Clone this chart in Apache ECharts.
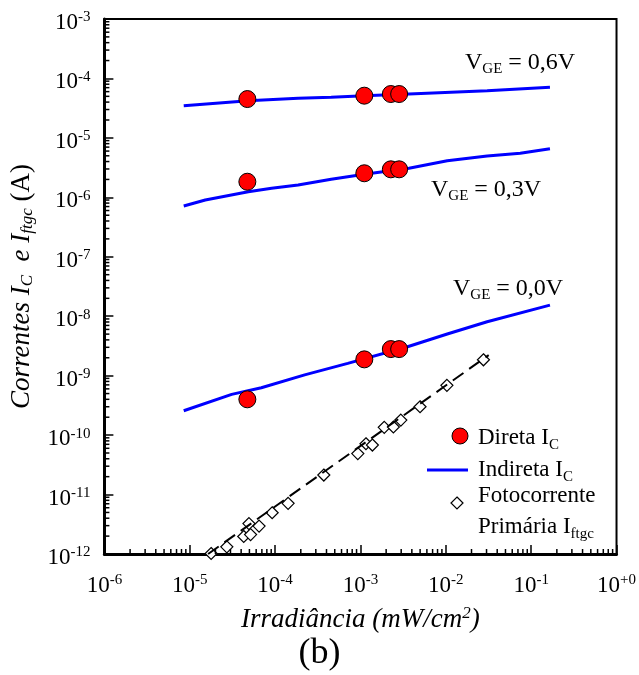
<!DOCTYPE html>
<html><head><meta charset="utf-8">
<script src="https://cdn.jsdelivr.net/npm/echarts@6/dist/echarts.min.js"></script>
<style>html,body{margin:0;padding:0;background:#fff}#c{width:639px;height:675px}</style>
</head><body><div id="c"></div>
<script>
// Axis decades (exponents)
const xExpMin = -6, xExpMax = 0;
const yExpMin = -12, yExpMax = -3;

// Indireta I_C (lines)
const indireta06 = [[8.5e-6,3.48e-5],[4.85e-5,4.23e-5],[1.86e-4,4.64e-5],[4.54e-4,4.82e-5],[1.11e-3,5.13e-5],[3.7e-3,5.5e-5],[3.05e-2,6.22e-5],[0.166,7.1e-5]];
const indireta03 = [[8.5e-6,7.15e-7],[1.52e-5,9.0e-7],[4.85e-5,1.24e-6],[9.1e-5,1.42e-6],[1.86e-4,1.61e-6],[4.54e-4,2.01e-6],[1.11e-3,2.44e-6],[3.7e-3,3.08e-6],[1.04e-2,4.13e-6],[3.05e-2,4.95e-6],[7.45e-2,5.5e-6],[0.166,6.58e-6]];
const indireta00 = [[8.5e-6,2.57e-10],[3.1e-5,4.85e-10],[6.9e-5,6.27e-10],[2.22e-4,1.03e-9],[7.1e-4,1.61e-9],[3.56e-3,3.07e-9],[1.04e-2,5.02e-9],[3.05e-2,8.09e-9],[0.166,1.54e-8]];

// Direta I_C (circles)
const diretaX = [4.73e-5, 1.11e-3, 2.27e-3, 2.84e-3];
const direta06 = [4.5e-5, 5.13e-5, 5.47e-5, 5.47e-5];
const direta03 = [1.83e-6, 2.54e-6, 2.96e-6, 2.96e-6];
const direta00 = [4.0e-10, 1.88e-9, 2.8e-9, 2.8e-9];

// Fotocorrente primária I_ftgc (diamonds)
const fotoX = [1.78e-5,2.72e-5,4.29e-5,4.94e-5,5.16e-5,6.49e-5,9.24e-5,1.42e-4,3.72e-4,9.31e-4,1.16e-3,1.38e-3,1.90e-3,2.43e-3,2.97e-3,4.99e-3,1.03e-2,2.76e-2];
const fotoY = [1.02e-12,1.32e-12,1.97e-12,3.25e-12,2.12e-12,2.95e-12,4.94e-12,7.11e-12,2.13e-11,4.89e-11,7.16e-11,6.81e-11,1.35e-10,1.37e-10,1.79e-10,3.0e-10,6.87e-10,1.85e-9];
// Fit (dashed)
const fitLine = [[1.64e-5,1e-12],[3.18e-2,2.22e-9]];

const FONT = 'Liberation Serif';
function expLabel(v){
  const e = Math.round(Math.log10(v));
  const s = e === 0 ? '+0' : String(e);
  return '{b|10}{s|' + s + '}';
}
const labelRich = {
  b:{fontSize:23,fontFamily:FONT,color:'#000',lineHeight:26},
  s:{fontSize:15,fontFamily:FONT,color:'#000',verticalAlign:'top',lineHeight:15}
};
function minorVals(e0,e1){
  const out=[];
  for(let e=e0;e<e1;e++){for(let m=2;m<=9;m++){out.push(m*Math.pow(10,e));}}
  return out;
}
const xMinor = minorVals(xExpMin,xExpMax).map(v=>[v,Math.pow(10,yExpMin)]);
const yMinor = minorVals(yExpMin,yExpMax).map(v=>[Math.pow(10,xExpMin),v]);

const zip = (xs,ys)=>xs.map((x,i)=>[x,ys[i]]);

const chart = echarts.init(document.getElementById('c'),null,{renderer:'canvas'});
const option = {
  animation:false,
  backgroundColor:'#fff',
  grid:{left:102,top:19,width:515,height:535,show:true,borderColor:'#000',borderWidth:2,backgroundColor:'transparent'},
  xAxis:{
    type:'log',logBase:10,min:Math.pow(10,xExpMin),max:Math.pow(10,xExpMax),interval:1,splitNumber:6,
    splitLine:{show:false},
    axisLine:{lineStyle:{color:'#000',width:3}},
    axisTick:{inside:true,length:9,lineStyle:{color:'#000',width:1.5}},
    axisLabel:{formatter:expLabel,rich:labelRich,margin:19,color:'#000'},
    name:'{i|Irradiância (mW/cm}{s|2}{i|)}',nameLocation:'middle',nameGap:51,
    nameTextStyle:{rich:{i:{fontSize:27,fontStyle:'italic',fontFamily:FONT,color:'#000',lineHeight:30},s:{fontSize:17,fontStyle:'italic',fontFamily:FONT,color:'#000',verticalAlign:'top',lineHeight:17}}}
  },
  yAxis:{
    type:'log',logBase:10,min:Math.pow(10,yExpMin),max:Math.pow(10,yExpMax),interval:1,splitNumber:9,
    splitLine:{show:false},
    axisLine:{lineStyle:{color:'#000',width:3}},
    axisTick:{inside:true,length:9,lineStyle:{color:'#000',width:1.5}},
    axisLabel:{formatter:expLabel,rich:labelRich,margin:14,color:'#000',padding:[8,0,0,0]},
    name:'{i|Correntes I}{sub|C}{i|  e I}{sub|ftgc}{n| (A)}',nameLocation:'middle',nameGap:54,nameRotate:90,
    nameTextStyle:{rich:{
      i:{fontSize:27,fontStyle:'italic',fontFamily:FONT,color:'#000',lineHeight:30},
      sub:{fontSize:17,fontStyle:'italic',fontFamily:FONT,color:'#000',verticalAlign:'bottom',lineHeight:17},
      n:{fontSize:27,fontFamily:FONT,color:'#000',lineHeight:30}}}
  },
  series:[
    {type:'custom',name:'xminor',data:xMinor,silent:true,z:5,clip:false,
      renderItem:(p,api)=>{const c=api.coord([api.value(0),api.value(1)]);return {type:'line',shape:{x1:c[0],y1:c[1],x2:c[0],y2:c[1]-5},style:{stroke:'#000',lineWidth:1.5}};}},
    {type:'custom',name:'yminor',data:yMinor,silent:true,z:5,clip:false,
      renderItem:(p,api)=>{const c=api.coord([api.value(0),api.value(1)]);return {type:'line',shape:{x1:c[0],y1:c[1],x2:c[0]+5,y2:c[1]},style:{stroke:'#000',lineWidth:1.5}};}},
    {type:'line',name:'Indireta 0.6',data:indireta06,showSymbol:false,lineStyle:{color:'#0000ff',width:3},z:3},
    {type:'line',name:'Indireta 0.3',data:indireta03,showSymbol:false,lineStyle:{color:'#0000ff',width:3},z:3},
    {type:'line',name:'Indireta 0.0',data:indireta00,showSymbol:false,lineStyle:{color:'#0000ff',width:3},z:3},
    {type:'scatter',name:'Foto',data:zip(fotoX,fotoY),symbol:'diamond',symbolSize:12,itemStyle:{color:'#fff',borderColor:'#000',borderWidth:1.2,opacity:1},z:3},
    {type:'line',name:'Fit',data:fitLine,showSymbol:false,lineStyle:{color:'#000',width:2,type:[13,7]},z:4},
    {type:'scatter',name:'Direta 0.6',data:zip(diretaX,direta06),symbol:'circle',symbolSize:17,itemStyle:{color:'#ff0000',borderColor:'#000',borderWidth:1,opacity:1},z:6},
    {type:'scatter',name:'Direta 0.3',data:zip(diretaX,direta03),symbol:'circle',symbolSize:17,itemStyle:{color:'#ff0000',borderColor:'#000',borderWidth:1,opacity:1},z:6},
    {type:'scatter',name:'Direta 0.0',data:zip(diretaX,direta00),symbol:'circle',symbolSize:17,itemStyle:{color:'#ff0000',borderColor:'#000',borderWidth:1,opacity:1},z:6}
  ],
  graphic:[]
};
const txtRich = {
  a:{fontSize:24,fontFamily:FONT,color:'#000',lineHeight:28},
  s:{fontSize:15,fontFamily:FONT,color:'#000',verticalAlign:'bottom',lineHeight:15}
};
function vge(x,y,val){
  return {type:'text',left:x,top:y,z:10,style:{text:'{a|V}{s|GE}{a| = '+val+'}',rich:txtRich,fill:'#000'}};
}
option.graphic.push(vge(465,51,'0,6V'));
option.graphic.push(vge(431,178,'0,3V'));
option.graphic.push(vge(453,277,'0,0V'));
// legend
const legRich = {
  a:{fontSize:23,fontFamily:FONT,color:'#000',lineHeight:30},
  s:{fontSize:15,fontFamily:FONT,color:'#000',verticalAlign:'bottom',lineHeight:15}
};
option.graphic.push({type:'circle',shape:{cx:460,cy:436,r:8},style:{fill:'#ff0000',stroke:'#000',lineWidth:1},z:10});
option.graphic.push({type:'line',shape:{x1:427,y1:470,x2:468,y2:470},style:{stroke:'#0000ff',lineWidth:3},z:10});
option.graphic.push({type:'polygon',shape:{points:[[457,497],[463,503],[457,509],[451,503]]},style:{fill:'#fff',stroke:'#000',lineWidth:1.2},z:10});
option.graphic.push({type:'text',left:478,top:426,z:10,style:{text:'{a|Direta I}{s|C}',rich:legRich}});
option.graphic.push({type:'text',left:478,top:458,z:10,style:{text:'{a|Indireta I}{s|C}',rich:legRich}});
option.graphic.push({type:'text',left:478,top:484,z:10,style:{text:'{a|Fotocorrente}',rich:legRich}});
option.graphic.push({type:'text',left:478,top:515,z:10,style:{text:'{a|Primária I}{s|ftgc}',rich:legRich}});
option.graphic.push({type:'text',left:'center',top:636,z:10,style:{text:'(b)',font:'36px "Liberation Serif"',fill:'#000'}});
chart.setOption(option);
</script></body></html>
